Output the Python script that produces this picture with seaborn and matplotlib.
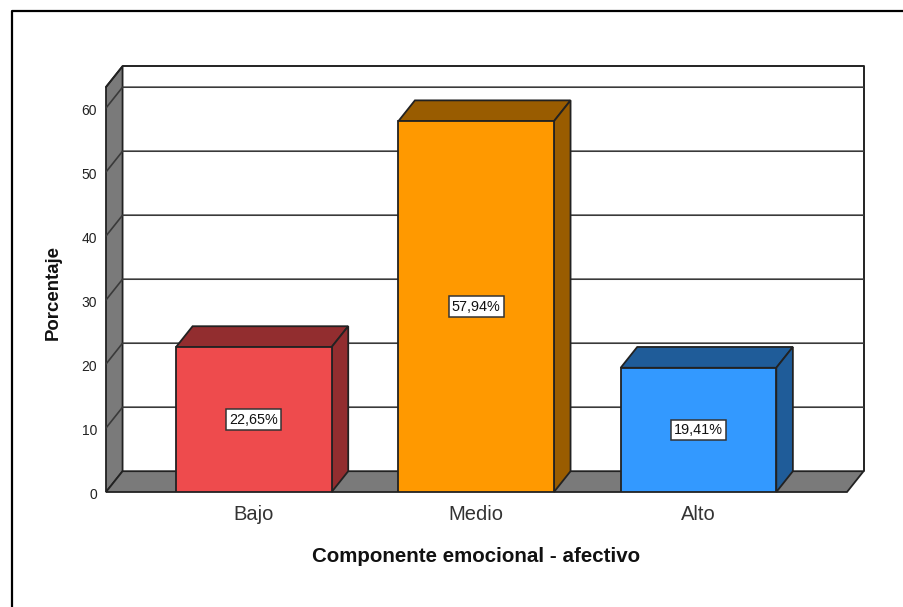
import matplotlib
matplotlib.use('Agg')
import matplotlib.pyplot as plt
import matplotlib.transforms as mtrans
import pandas as pd
import seaborn as sns

# values
categorias = ['Bajo', 'Medio', 'Alto']
porcentajes = [22.65, 57.94, 19.41]
etiquetas = ['22,65%', '57,94%', '19,41%']
y_ticks = [0, 10, 20, 30, 40, 50, 60]

colores = ['#EE4B4D', '#FF9900', '#3399FF']
colores_lado = ['#922D2F', '#995C00', '#1F5C99']
gris = '#7A7A7A'
borde = '#222222'

# 3D look: depth of the box in data units
dx = 0.0745
dy = 3.25
y_max = 63.28
x_min, x_max = -0.665, 2.668
ancho = 0.7

sns.set_style('white')
plt.rcParams['font.family'] = ['Liberation Sans', 'DejaVu Sans']

df = pd.DataFrame({'cat': categorias, 'pct': porcentajes})

fig = plt.figure(figsize=(9.04, 6.07), dpi=100)
ax = fig.add_axes([106 / 904, (607 - 492) / 607, 741 / 904, 405 / 607])

# walls and floor
ax.fill([x_min, x_min + dx, x_min + dx, x_min], [0, dy, y_max + dy, y_max],
        facecolor=gris, edgecolor=borde, lw=1.3, clip_on=False, zorder=1)
ax.fill([x_min, x_min + dx, x_max + dx, x_max], [0, dy, dy, 0],
        facecolor=gris, edgecolor=borde, lw=1.3, clip_on=False, zorder=1)
ax.plot([x_min + dx, x_max + dx, x_max + dx], [y_max + dy, y_max + dy, dy],
        color=borde, lw=1.4, clip_on=False, zorder=1)

# grid lines on the back and side walls
for t in y_ticks[1:]:
    ax.plot([x_min, x_min + dx, x_max + dx], [t, t + dy, t + dy],
            color='#3A3A3A', lw=1.2, clip_on=False, zorder=1.5)
ax.plot([x_min, x_min + dx], [y_max, y_max + dy], color=borde, lw=1.3, clip_on=False, zorder=1.5)

sns.barplot(data=df, x='cat', y='pct', hue='cat', order=categorias, hue_order=categorias,
            palette=colores, saturation=1, width=ancho, edgecolor=borde, linewidth=1.3,
            legend=False, zorder=3, ax=ax)

# top and side faces of the bars
for i, v in enumerate(porcentajes):
    x0 = i - ancho / 2
    x1 = i + ancho / 2
    ax.fill([x0, x0 + dx, x1 + dx, x1], [v, v + dy, v + dy, v],
            facecolor=colores_lado[i], edgecolor=borde, lw=1.3, clip_on=False, zorder=2.5)
    ax.fill([x1, x1 + dx, x1 + dx, x1], [0, dy, v + dy, v],
            facecolor=colores_lado[i], edgecolor=borde, lw=1.3, clip_on=False, zorder=2.5)
    ax.text(i, v / 2, etiquetas[i], ha='center', va='center', fontsize=10.4, color='#111111', zorder=5,
            bbox=dict(boxstyle='square,pad=0.22', facecolor='white', edgecolor='#333333', lw=1.1))

ax.set_xlim(x_min, x_max)
ax.set_ylim(0, y_max)
ax.set_yticks(y_ticks)
ax.set_xticks(range(len(categorias)))
ax.set_xticklabels(categorias)
ax.tick_params(axis='x', length=0, pad=9, labelsize=14.5, labelcolor='#333333')
ax.tick_params(axis='y', length=0, pad=6.5, labelsize=10, labelcolor='#222222')
ax.patch.set_alpha(0)
for lab in ax.get_yticklabels():
    lab.set_transform(lab.get_transform() + mtrans.ScaledTranslation(0, -1.2 / 72, fig.dpi_scale_trans))
sns.despine(ax=ax, left=True, bottom=True, top=True, right=True)

ax.set_xlabel('Componente emocional - afectivo', fontsize=14.8, fontweight='bold', color='#111111')
ax.xaxis.set_label_coords((476 - 106) / 741, -(556 - 492) / 405, transform=ax.transAxes)
ax.xaxis.label.set_va('center')
ax.set_ylabel('Porcentaje', fontsize=13.4, fontweight='bold', color='#111111')
ax.yaxis.set_label_coords((53 - 106) / 741, (492 - 293) / 405, transform=ax.transAxes)
ax.yaxis.label.set_va('center')

# outer frame of the picture (left and top only)
fig.add_artist(plt.Line2D([12 / 904, 12 / 904, 1], [0, 1 - 11 / 607, 1 - 11 / 607],
                          color='black', lw=1.6))

fig.savefig('out.png', dpi=100)
